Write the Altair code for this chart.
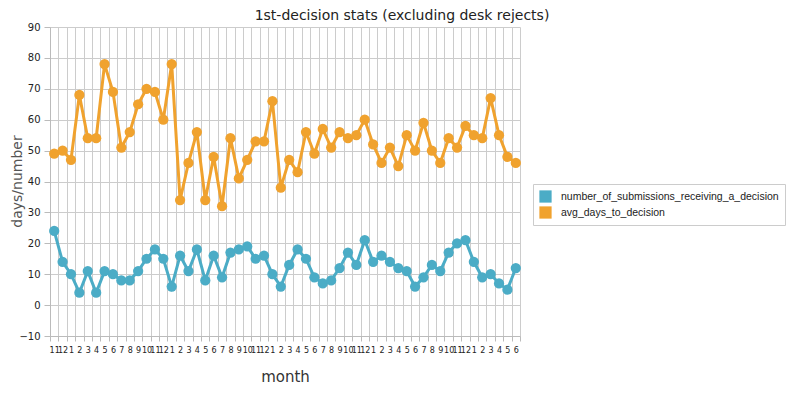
import altair as alt
import pandas as pd

months = [11, 12] + list(range(1, 13)) * 4 + list(range(1, 7))
submissions = [24, 14, 10, 4, 11, 4, 11, 10, 8, 8,
               11, 15, 18, 15, 6, 16, 11, 18, 8, 16,
               9, 17, 18, 19, 15, 16, 10, 6, 13, 18,
               15, 9, 7, 8, 12, 17, 13, 21, 14, 16,
               14, 12, 11, 6, 9, 13, 11, 17, 20, 21,
               14, 9, 10, 7, 5, 12]
avg_days = [49, 50, 47, 68, 54, 54, 78, 69, 51, 56,
            65, 70, 69, 60, 78, 34, 46, 56, 34, 48,
            32, 54, 41, 47, 53, 53, 66, 38, 47, 43,
            56, 49, 57, 51, 56, 54, 55, 60, 52, 46,
            51, 45, 55, 50, 59, 50, 46, 54, 51, 58,
            55, 54, 67, 55, 48, 46]
series_names = ["number_of_submissions_receiving_a_decision", "avg_days_to_decision"]
colors = ["#4BACC6", "#F0A22E"]

periods = [f"{i:02d}|{m}" for i, m in enumerate(months)]
rows = []
for name, vals in zip(series_names, [submissions, avg_days]):
    for p, v in zip(periods, vals):
        rows.append({"period": p, "series": name, "value": v})
df = pd.DataFrame(rows)

FONT = "DejaVu Sans"

x = alt.X(
    "period:O",
    scale=alt.Scale(type="band", paddingInner=0, paddingOuter=0),
    bandPosition=0.5,
    axis=alt.Axis(
        title="month",
        labelExpr="split(datum.value, '|')[1]",
        labelAngle=0,
        labelOverlap=False,
        tickBand="extent",
        grid=True,
        labelFontSize=8,
        labelPadding=5,
        tickSize=5,
        titlePadding=15,
        titleColor="#333333",
    ),
)
y = alt.Y(
    "value:Q",
    scale=alt.Scale(domain=[-10, 90], nice=False, zero=False),
    axis=alt.Axis(
        title="days/number",
        values=list(range(-10, 91, 10)),
        labelFontSize=10,
        tickSize=6,
        labelPadding=4,
        titleAngle=-90,
        titleX=-26,
        titleY=154,
        titleAlign="center",
        titleBaseline="bottom",
        titleFontSize=14,
    ),
)
color = alt.Color(
    "series:N",
    scale=alt.Scale(domain=series_names, range=colors),
    legend=alt.Legend(
        title=None,
        orient="none",
        legendX=483,
        legendY=157,
        strokeColor="#cccccc",
        padding=6,
        symbolType="square",
        symbolSize=150,
        symbolStrokeWidth=0,
        symbolOpacity=1,
        labelFont="Liberation Sans",
        labelFontSize=10.5,
        labelLimit=400,
        labelColor="#222222",
        labelOffset=9,
        rowPadding=3,
    ),
)

base = alt.Chart(df).encode(x=x, y=y, color=color)
lines = base.mark_line(strokeWidth=3)
pts = base.mark_circle(size=105, opacity=1)

chart = (
    alt.layer(lines, pts)
    .properties(
        width=470,
        height=309,
        title=alt.TitleParams(
            "1st-decision stats (excluding desk rejects)",
            anchor="middle",
            dx=117,
            offset=-1,
            fontSize=14,
            fontWeight="normal",
            color="#222222",
            font=FONT,
        ),
        autosize=alt.AutoSizeParams(type="none"),
        padding={"left": 42, "top": 19, "right": 276, "bottom": 50},
    )
    .configure_view(stroke=None)
    .configure_axis(
        labelFont=FONT,
        titleFont=FONT,
        titleFontSize=15,
        titleFontWeight="normal",
        titleColor="#555555",
        labelColor="#222222",
        gridColor="#cccccc",
        domainColor="#bbbbbb",
        tickColor="#bbbbbb",
    )
)

chart.save("out.html", embed_options={"renderer": "svg", "actions": False})
